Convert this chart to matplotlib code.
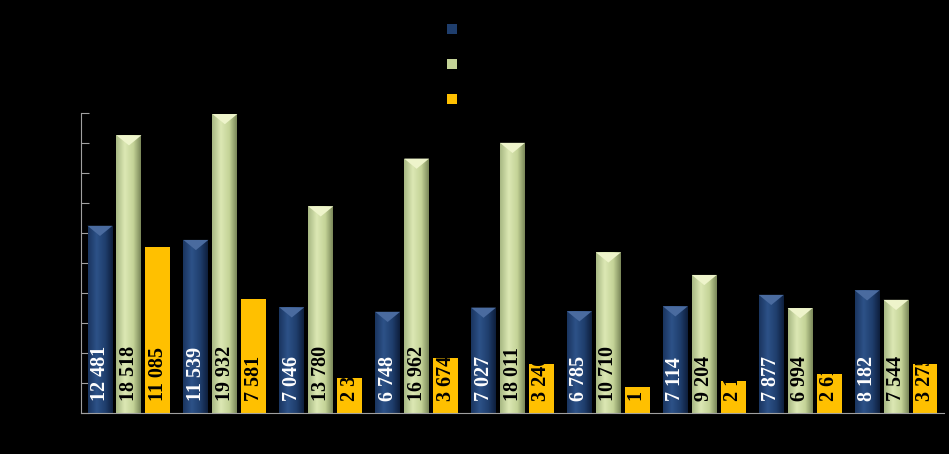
import numpy as np
import matplotlib.pyplot as plt
from matplotlib.colors import LinearSegmentedColormap
from matplotlib.patches import Polygon

# values (yellow labels are cut by the bar top, last digits estimated)
series_names = ["Series 1", "Series 2", "Series 3"]
blue_vals = [12481, 11539, 7046, 6748, 7027, 6785, 7114, 7877, 8182]
green_vals = [18518, 19932, 13780, 16962, 18011, 10710, 9204, 6994, 7544]
yellow_vals = [11085, 7581, 2340, 3674, 3240, 1710, 2110, 2610, 3275]
y_ticks = list(range(0, 20001, 2000))

blue_cmap = LinearSegmentedColormap.from_list(
    "blue3d", [(0, "#1a3560"), (0.35, "#2d5288"), (0.7, "#1f3e6d"), (1, "#0e1f3d")])
green_cmap = LinearSegmentedColormap.from_list(
    "green3d", [(0, "#a8b883"), (0.35, "#dce8b4"), (0.7, "#c4d397"), (1, "#7b885a")])

fig = plt.figure(figsize=(9.49, 4.54), dpi=100, facecolor="black")
ax = fig.add_axes([81 / 949, 41 / 454, 863 / 949, 300 / 454])
ax.set_facecolor("black")

x = np.arange(len(blue_vals))
width = 0.26
step = 0.302
grad = np.linspace(0, 1, 64).reshape(1, -1)

series = [
    (blue_vals, -step, "#1f3e6d", blue_cmap, "#4a6b9f", "white"),
    (green_vals, 0.0, "#c4d397", green_cmap, "#eef4cb", "black"),
    (yellow_vals, step, "#ffc000", None, None, "black"),
]

handles = []
for (vals, off, color, cmap, cap, tcolor), name in zip(series, series_names):
    bars = ax.bar(x + off, vals, width, color=color, zorder=2, label=name)
    handles.append(bars)
    for b, v in zip(bars, vals):
        x0 = b.get_x()
        h = b.get_height()
        if cmap is not None:
            im = ax.imshow(grad, cmap=cmap, extent=(x0, x0 + width, 0, h),
                           aspect="auto", interpolation="bilinear", zorder=2.1)
            im.set_clip_path(b)
            # pyramid-like top of the 3D bar
            tri = Polygon([(x0, h), (x0 + width, h), (x0 + width / 2, h - 680)],
                          closed=True, facecolor=cap, edgecolor="none", zorder=2.2)
            ax.add_patch(tri)
        label = f"{v:,}".replace(",", " ")
        t = ax.text(x0 + width / 2, 800, label, rotation=90, ha="center", va="bottom",
                    color=tcolor, fontsize=14.5, fontweight="bold",
                    family="Liberation Serif", zorder=3)
        t.set_clip_path(b)

ax.set_xlim(-0.5, 8.5)
ax.set_ylim(0, 20000)
ax.set_yticks(y_ticks)
ax.tick_params(axis="y", direction="in", length=6, color="#a0a0a0", labelcolor="black")
ax.set_xticks(x)
ax.tick_params(axis="x", length=0, labelcolor="black")
for side in ["top", "right"]:
    ax.spines[side].set_visible(False)
for side in ["left", "bottom"]:
    ax.spines[side].set_color("#a0a0a0")

fig.legend(handles=handles, loc="center left", bbox_to_anchor=(447 / 949, 1 - 65 / 454),
           frameon=False, borderpad=0, borderaxespad=0, handlelength=0.72,
           handleheight=0.72, labelspacing=1.52, fontsize=10, labelcolor="black")

fig.savefig("out.png", dpi=100, facecolor="black")
